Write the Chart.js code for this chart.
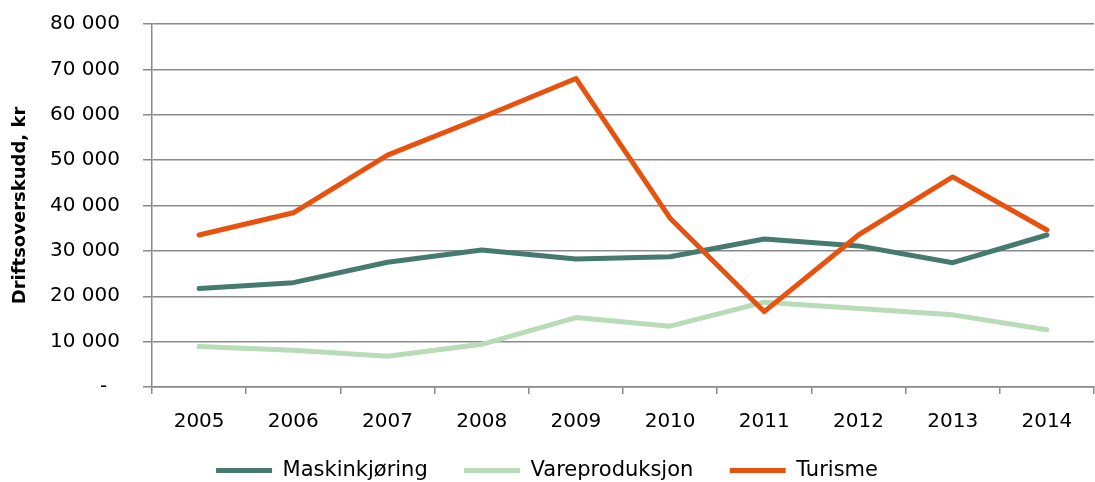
<!DOCTYPE html>
<html>
<head>
<meta charset="utf-8">
<script src="https://cdn.jsdelivr.net/npm/chart.js@4"></script>
<style>
  html, body { margin: 0; padding: 0; background: #fff; }
  #wrap { width: 1095px; height: 482px; position: relative; }
</style>
</head>
<body>
<div id="wrap"><canvas id="c"></canvas></div>
<script>
const categories = ['2005', '2006', '2007', '2008', '2009', '2010', '2011', '2012', '2013', '2014'];
const maskinkjoring = [21700, 23000, 27500, 30200, 28200, 28700, 32600, 31100, 27400, 33500];
const vareproduksjon = [8900, 8100, 6800, 9400, 15300, 13400, 18700, 17300, 15900, 12600];
const turisme = [33500, 38400, 51100, 59400, 68000, 37200, 16600, 33500, 46300, 34600];
const seriesNames = ['Maskinkjøring', 'Vareproduksjon', 'Turisme'];
const yTitle = 'Driftsoverskudd, kr';

const gridColor = '#8a8a8a';
const fontFamily = '"DejaVu Sans", sans-serif';

function fmt(v) {
  if (v === 0) return '-  ';
  return String(v).replace(/\B(?=(\d{3})+(?!\d))/g, ' ');
}

function ds(label, data, color, order) {
  return {
    label, data,
    borderColor: color, backgroundColor: color,
    borderWidth: 5, pointRadius: 0, pointHoverRadius: 0,
    tension: 0, borderCapStyle: 'round', borderJoinStyle: 'round',
    fill: false, order
  };
}

new Chart(document.getElementById('c'), {
  type: 'line',
  data: {
    labels: categories,
    datasets: [
      ds(seriesNames[0], maskinkjoring, '#467a6e', 1),
      ds(seriesNames[1], vareproduksjon, '#b8dcb8', 1),
      ds(seriesNames[2], turisme, '#e8520f', 0)
    ]
  },
  options: {
    responsive: true,
    maintainAspectRatio: false,
    animation: false,
    events: [],
    layout: { padding: { top: 24, right: 1, bottom: -9, left: 0 } },
    plugins: {
      tooltip: { enabled: false },
      legend: {
        position: 'bottom',
        labels: {
          usePointStyle: true,
          pointStyle: 'line',
          pointStyleWidth: 56,
          boxHeight: 5,
          padding: 23,
          color: '#000',
          font: { family: fontFamily, size: 21 },
          sort: (a, b) => a.datasetIndex - b.datasetIndex,
          generateLabels: (chart) => {
            const items = Chart.defaults.plugins.legend.labels.generateLabels(chart);
            items.forEach((it) => {
              if (it.datasetIndex < 2) it.text = it.text + '\u00a0\u00a0';
            });
            return items;
          }
        }
      }
    },
    scales: {
      x: {
        offset: true,
        grid: { offset: true, drawOnChartArea: false, drawTicks: true, tickLength: 7, color: gridColor, lineWidth: 1.5 },
        border: { display: true, color: gridColor, width: 1.5 },
        ticks: { color: '#000', font: { family: fontFamily, size: 20 }, padding: 16, maxRotation: 0 },
        afterFit: (s) => { s.height = 50; }
      },
      y: {
        min: 0, max: 80000,
        afterFit: (s) => { s.width = 152; s.paddingTop = 0; s.paddingBottom = 0; },
        grid: { color: gridColor, lineWidth: 1.5, tickLength: 9, drawTicks: true },
        border: { display: true, color: gridColor, width: 1.5 },
        ticks: {
          stepSize: 10000,
          color: '#000',
          padding: 23,
          font: { family: fontFamily, size: 20 },
          callback: (v) => fmt(v)
        },
        title: {
          display: true,
          text: yTitle,
          color: '#000',
          font: { family: fontFamily, size: 18, weight: 'bold' },
          padding: { top: 10, bottom: 0 }
        }
      }
    }
  }
});
</script>
</body>
</html>
